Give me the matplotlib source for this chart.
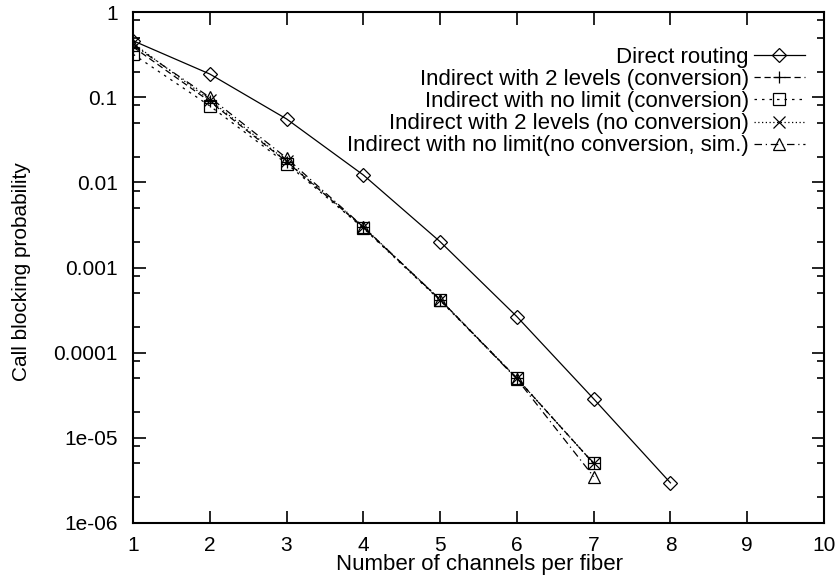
import numpy as np
import matplotlib.pyplot as plt
from matplotlib.ticker import FixedLocator, FixedFormatter, NullFormatter

plt.rcParams['font.family'] = ['Liberation Sans', 'DejaVu Sans']

# Données
channels = [1, 2, 3, 4, 5, 6, 7, 8]
direct = [0.46, 0.187, 0.0555, 0.0122, 0.00201, 0.000265, 2.87e-5, 2.96e-6]
ind2_conv = [0.39, 0.089, 0.0175, 0.00295, 0.00042, 5.0e-5, 5.0e-6]
indnl_conv = [0.32, 0.079, 0.0166, 0.0029, 0.00041, 5.0e-5, 5.0e-6]
ind2_noconv = [0.43, 0.093, 0.0178, 0.0030, 0.00042, 5.0e-5, 5.0e-6]
indnl_sim = [0.41, 0.0996, 0.0193, 0.0030, 0.00042, 4.9e-5, 3.5e-6]

labels = ['Direct routing',
          'Indirect with 2 levels (conversion)',
          'Indirect with no limit (conversion)',
          'Indirect with 2 levels (no conversion)',
          'Indirect with no limit(no conversion, sim.)']

yticks = [1, 0.1, 0.01, 0.001, 0.0001, 1e-5, 1e-6]
ytick_labels = ['1', '0.1', '0.01', '0.001', '0.0001', '1e-05', '1e-06']
xticks = [1, 2, 3, 4, 5, 6, 7, 8, 9, 10]

fig = plt.figure(figsize=(8.4, 5.8), dpi=100)
ax = fig.add_axes([133/840, 1 - 523/580, (824-133)/840, (523-12)/580])

series = [
    (channels, direct, 'D', '-', 7),
    (channels[:7], ind2_conv, '+', (0, (5, 3)), 9),
    (channels[:7], indnl_conv, 's', (0, (2, 4)), 8),
    (channels[:7], ind2_noconv, 'x', (0, (1, 2)), 8),
    (channels[:7], indnl_sim, '^', (0, (6, 3, 1, 3)), 8),
]
for (x, y, m, ls, ms), lab in zip(series, labels):
    ax.plot(x, y, color='black', lw=0.9, linestyle=ls, marker=m, ms=ms,
            mfc='none', mec='black', mew=0.9, label=lab)

ax.set_yscale('log')
ax.set_xlim(1, 10)
ax.set_ylim(1e-6, 1)

ax.yaxis.set_major_locator(FixedLocator(yticks))
ax.yaxis.set_major_formatter(FixedFormatter(ytick_labels))
minors = [m * 10.0**k for k in range(-6, 0) for m in (2, 5, 8)]
ax.yaxis.set_minor_locator(FixedLocator(minors))
ax.yaxis.set_minor_formatter(NullFormatter())
ax.set_xticks(xticks)
ax.set_xticklabels([str(t) for t in xticks])

ax.tick_params(which='both', direction='in', top=True, right=True,
               labelsize=15, width=1.2)
ax.tick_params(axis='x', pad=9.5)
ax.tick_params(axis='y', pad=11)
ax.tick_params(which='major', length=9)
ax.tick_params(which='minor', length=5)
for s in ax.spines.values():
    s.set_linewidth(1.5)

ax.set_xlabel('Number of channels per fiber', fontsize=16)
ax.xaxis.set_label_coords(0.502, -(554 - 523) / 511)
ax.set_ylabel('Call blocking probability', fontsize=15)
ax.yaxis.set_label_coords((31 - 133) / 691, 0.492)

ax.legend(loc='upper right', bbox_to_anchor=((805-133)/691, 1 - 35/511),
          frameon=False, markerfirst=False, fontsize=16, handlelength=2.3,
          handletextpad=0.22, labelspacing=0.05, borderaxespad=0,
          borderpad=0, numpoints=1)

fig.savefig('out.png', dpi=100)
